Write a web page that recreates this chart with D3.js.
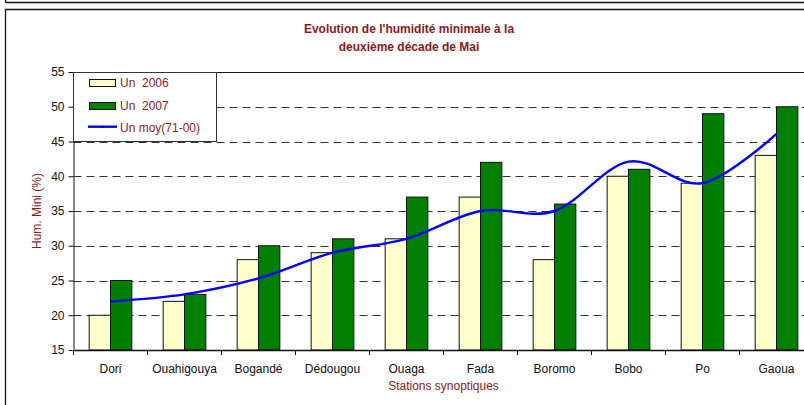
<!DOCTYPE html>
<html>
<head>
<meta charset="utf-8">
<script src="https://cdn.jsdelivr.net/npm/d3@7"></script>
<style>
	body { margin: 0; background: #fff; }
	svg { display: block; font-family: "Liberation Sans", Arial, sans-serif; }
</style>
</head>
<body>
<svg></svg>
<script>
var width = 804,
	height = 405;

// data
var stations = ["Dori", "Ouahigouya", "Bogandé", "Dédougou", "Ouaga", "Fada", "Boromo", "Bobo", "Po", "Gaoua"];
var un2006 = [20, 22, 28, 29, 31, 37, 28, 40, 39, 43];
var un2007 = [25, 23, 30, 31, 37, 42, 36, 41, 49, 50];
var unMoy = [22, 23, 25.3, 29, 31, 35, 35, 42.1, 39, 46.1];
var yTicks = [15, 20, 25, 30, 35, 40, 45, 50, 55];
var seriesNames = ["Un  2006", "Un  2007", "Un moy(71-00)"];

var red = "#8b1a1a";

var svg = d3.select("svg").attr("width", width).attr("height", height);
svg.append("rect").attr("width", width).attr("height", height).attr("fill", "#fff");

// frames (bottom of the box above + chart area)
svg.append("line").attr("x1", 5.5).attr("x2", width).attr("y1", 2.5).attr("y2", 2.5).attr("stroke", "#111").attr("stroke-width", 1.3);
svg.append("line").attr("x1", 5.5).attr("x2", 5.5).attr("y1", 0).attr("y2", 2.5).attr("stroke", "#111").attr("stroke-width", 1.3);
svg.append("path").attr("d", `M${width},9.5H5.5V${height}`).attr("fill", "none").attr("stroke", "#111").attr("stroke-width", 1.3);

var plotLeft = 73.5, plotTop = 72, plotBottom = 350;
var x = d3.scaleBand().domain(stations).range([plotLeft, plotLeft + 740]);
var y = d3.scaleLinear().domain([15, 55]).range([plotBottom, plotTop]);
var xs = d3.scaleBand().domain(["2006", "2007"]).range([0, x.bandwidth()]).paddingInner(0).paddingOuter(0.733);

// title
var title = svg.append("text").attr("text-anchor", "middle").attr("fill", red)
	.style("font-size", "12px").style("font-weight", "bold");
title.append("tspan").attr("x", 409).attr("y", 32.5).text("Evolution de l'humidité minimale à la");
title.append("tspan").attr("x", 409).attr("y", 51).text("deuxième décade de Mai");

// grid
svg.append("g").selectAll("line").data(yTicks.filter((t) => t > 15)).enter().append("line")
	.attr("x1", plotLeft).attr("x2", width)
	.attr("y1", (d) => Math.round(y(d)) + 0.5).attr("y2", (d) => Math.round(y(d)) + 0.5)
	.attr("stroke", (d) => (d === 55 ? "#111" : "#333"))
	.attr("stroke-dasharray", (d) => (d === 55 ? null : "8,5"));

// bars
var groups = svg.append("g").selectAll("g").data(stations).enter().append("g")
	.attr("transform", (d) => `translate(${x(d)},0)`);
[["2006", un2006, "#ffffcc"], ["2007", un2007, "#008000"]].forEach(([k, vals, fill]) => {
	groups.append("rect")
		.attr("x", xs(k))
		.attr("width", xs.bandwidth())
		.attr("y", (d, i) => y(vals[i]))
		.attr("height", (d, i) => plotBottom - y(vals[i]))
		.attr("fill", fill)
		.attr("stroke", "#111")
		.attr("stroke-width", 1);
});

// average line
var line = d3.line()
	.x((d, i) => x(stations[i]) + x.bandwidth() / 2)
	.y((d) => y(d))
	.curve(d3.curveCardinal.tension(0));
svg.append("path").datum(unMoy).attr("d", line).attr("fill", "none").attr("stroke", "#0000ff").attr("stroke-width", 2.4);

// axes
var yAxis = svg.append("g").attr("transform", `translate(${plotLeft},0)`)
	.call(d3.axisLeft(y).tickValues(yTicks).tickSize(5).tickSizeOuter(0).tickPadding(4));
yAxis.selectAll("text").style("font-size", "12px").attr("fill", "#111");
yAxis.selectAll("line, path").attr("stroke", "#111");

var xAxis = svg.append("g").attr("transform", `translate(0,${plotBottom})`)
	.call(d3.axisBottom(x).tickSize(0).tickPadding(14));
xAxis.selectAll("text").style("font-size", "12px").attr("fill", "#111");
xAxis.select(".domain").attr("stroke", "#111").attr("stroke-width", 1.3);
xAxis.selectAll(".edge").data(stations.concat([null])).enter().append("line")
	.attr("class", "edge")
	.attr("x1", (d) => (d ? x(d) : x.range()[1])).attr("x2", (d) => (d ? x(d) : x.range()[1]))
	.attr("y1", 0).attr("y2", 5).attr("stroke", "#111");

// axis titles
svg.append("text").attr("transform", "translate(40.5,211) rotate(-90)").attr("text-anchor", "middle")
	.attr("fill", red).style("font-size", "12px").text("Hum. Mini (%)");
svg.append("text").attr("x", plotLeft + 370).attr("y", 390).attr("text-anchor", "middle")
	.attr("fill", red).style("font-size", "12px").text("Stations synoptiques");

// legend
var legend = svg.append("g");
legend.append("rect").attr("x", 73.5).attr("y", 72.5).attr("width", 143).attr("height", 69)
	.attr("fill", "#fff").attr("stroke", "#333");
[["#ffffcc", 79.5], ["#008000", 102.5]].forEach(([c, yy]) =>
	legend.append("rect").attr("x", 89.5).attr("y", yy).attr("width", 26).attr("height", 7)
		.attr("fill", c).attr("stroke", "#111"));
legend.append("line").attr("x1", 88).attr("x2", 117).attr("y1", 126.7).attr("y2", 126.7)
	.attr("stroke", "#0000ff").attr("stroke-width", 2.4);
legend.append("rect").attr("x", 101.5).attr("y", 125.7).attr("width", 2).attr("height", 2).attr("fill", "#000080");
legend.selectAll("text.lbl").data(seriesNames).enter().append("text").attr("class", "lbl")
	.attr("x", 120).attr("y", (d, i) => [87, 110.3, 131.5][i])
	.attr("fill", red).style("font-size", "12px").style("white-space", "pre").attr("xml:space", "preserve")
	.text((d) => d);
</script>
</body>
</html>
